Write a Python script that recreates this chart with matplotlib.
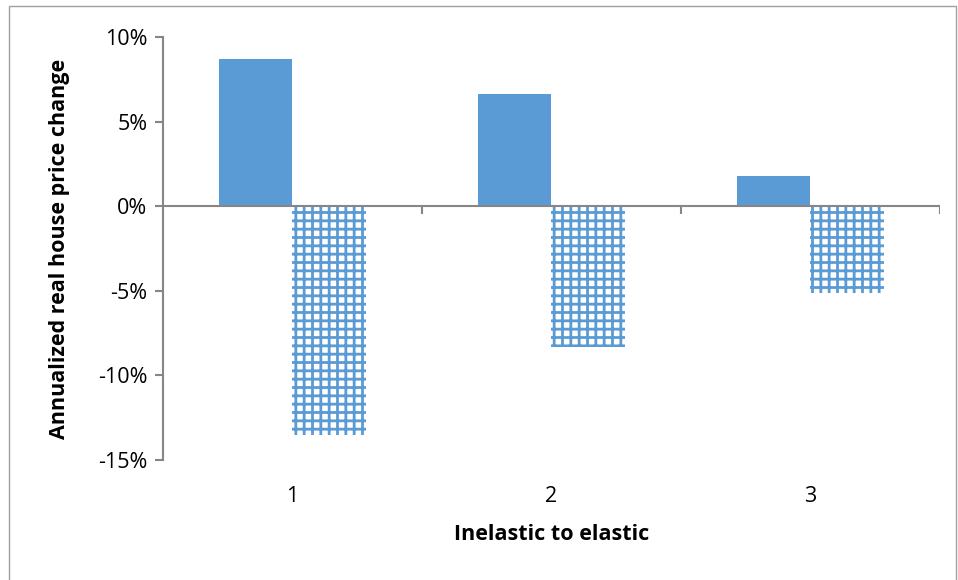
import numpy as np
import matplotlib
matplotlib.use("Agg")
import matplotlib.pyplot as plt
from matplotlib.patches import Rectangle
from matplotlib.ticker import FuncFormatter

categories = ["1", "2", "3"]
boom = [8.7, 6.65, 1.8]
bust = [-13.5, -8.3, -5.1]

plt.rcParams['font.family'] = ['Open Sans', 'DejaVu Sans']
plt.rcParams['hatch.linewidth'] = 2.0
plt.rcParams['hatch.color'] = '#5b9bd5'

blue = '#5b9bd5'
gray = '#868686'

fig = plt.figure(figsize=(9.58, 5.8), dpi=100)
ax = fig.add_axes([0.170, 0.207, 0.811, 0.729])

x = np.arange(1, len(categories) + 1)
w = 0.284
ax.bar(x - w / 2, boom, width=w, color=blue, edgecolor='none')
ax.bar(x + w / 2, bust, width=w, color='white', edgecolor=blue, hatch='++', linewidth=0)

ax.set_xlim(0.5, 3.5)
ax.set_ylim(-15, 10)
ax.set_yticks(np.arange(-15, 11, 5))
ax.yaxis.set_major_formatter(FuncFormatter(lambda v, p: f"{v:.0f}%"))

ax.axhline(0, color=gray, lw=1.5, zorder=3)
ax.vlines([1.5, 2.5, 3.5], 0, -0.45, color=gray, lw=1.5, zorder=3)

ax.spines['top'].set_visible(False)
ax.spines['right'].set_visible(False)
ax.spines['bottom'].set_visible(False)
ax.spines['left'].set_color(gray)
ax.spines['left'].set_linewidth(1.5)
ax.tick_params(axis='y', color=gray, width=1.5, length=6, labelsize=15.5, pad=5)
ax.set_xticks(x)
ax.set_xticklabels(categories)
ax.tick_params(axis='x', length=0, labelsize=15.5, pad=19)

ax.set_xlabel("Inelastic to elastic", fontsize=15.5, fontweight='bold', labelpad=12)
ax.set_ylabel("Annualized real house price change", fontsize=15.5, fontweight='bold', labelpad=20)

fig.patches.append(Rectangle((0.009, -0.01), 0.989, 1.0, transform=fig.transFigure,
                             fill=False, edgecolor='#a0a0a0', lw=1))

fig.savefig("out.png", dpi=100)
